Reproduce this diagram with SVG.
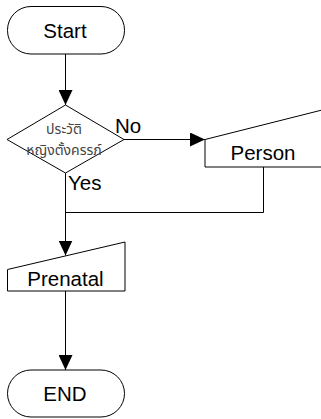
<svg xmlns="http://www.w3.org/2000/svg" width="321" height="419" viewBox="0 0 321 419">
  <style>
    .shape { fill: #fff; stroke: #000; stroke-width: 1; }
    .line { fill: none; stroke: #000; stroke-width: 1; }
    .label { font-family: "Liberation Sans", Arial, sans-serif; font-size: 20.5px; fill: #000; }
    .thai { font-family: "Noto Sans Thai", "Tlwg Typo", "Liberation Sans", sans-serif; font-size: 14px; fill: #444; }
  </style>
  <defs>
    <marker id="arrow" markerUnits="userSpaceOnUse" markerWidth="15" markerHeight="14" refX="15" refY="7" orient="auto">
      <path d="M0,0 L15,7 L0,14 Z" fill="#000"/>
    </marker>
  </defs>
  <rect width="321" height="419" fill="#fff"/>

  <!-- connectors -->
  <g id="connectors">
    <line class="line" x1="65.5" y1="54" x2="65.5" y2="105" marker-end="url(#arrow)"/>
    <line class="line" x1="124" y1="139.5" x2="205" y2="139.5" marker-end="url(#arrow)"/>
    <polyline class="line" points="263.5,167 263.5,212.5 65.5,212.5"/>
    <line class="line" x1="65.5" y1="173" x2="65.5" y2="255.5" marker-end="url(#arrow)"/>
    <line class="line" x1="65.5" y1="291" x2="65.5" y2="370" marker-end="url(#arrow)"/>
  </g>

  <!-- start terminal -->
  <g id="start">
    <rect class="shape" x="7.5" y="6.5" width="117" height="47.5" rx="23.5" ry="23.5"/>
    <text class="label" x="65" y="37.5" text-anchor="middle">Start</text>
  </g>

  <!-- decision -->
  <g id="decision">
    <polygon class="shape" points="65.5,105 124,139.5 65.5,173 7,139.5"/>
    <text class="thai" x="64" y="134" text-anchor="middle">ประวัติ</text>
    <text class="thai" x="64" y="155" text-anchor="middle">หญิงตั้งครรภ์</text>
  </g>
  <text class="label" x="115" y="132.5">No</text>
  <text class="label" x="68" y="190">Yes</text>

  <!-- manual input: Person -->
  <g id="person">
    <polygon class="shape" points="205,139.5 330,108 330,167 205,167"/>
    <text class="label" x="263" y="160" text-anchor="middle">Person</text>
  </g>

  <!-- manual input: Prenatal -->
  <g id="prenatal">
    <polygon class="shape" points="7.5,269.5 125,242 125,291 7.5,291"/>
    <text class="label" x="65.5" y="286" text-anchor="middle">Prenatal</text>
  </g>

  <!-- end terminal -->
  <g id="end">
    <rect class="shape" x="7.5" y="370" width="117" height="47" rx="23.5" ry="23.5"/>
    <text class="label" x="65" y="400.5" text-anchor="middle">END</text>
  </g>
</svg>
